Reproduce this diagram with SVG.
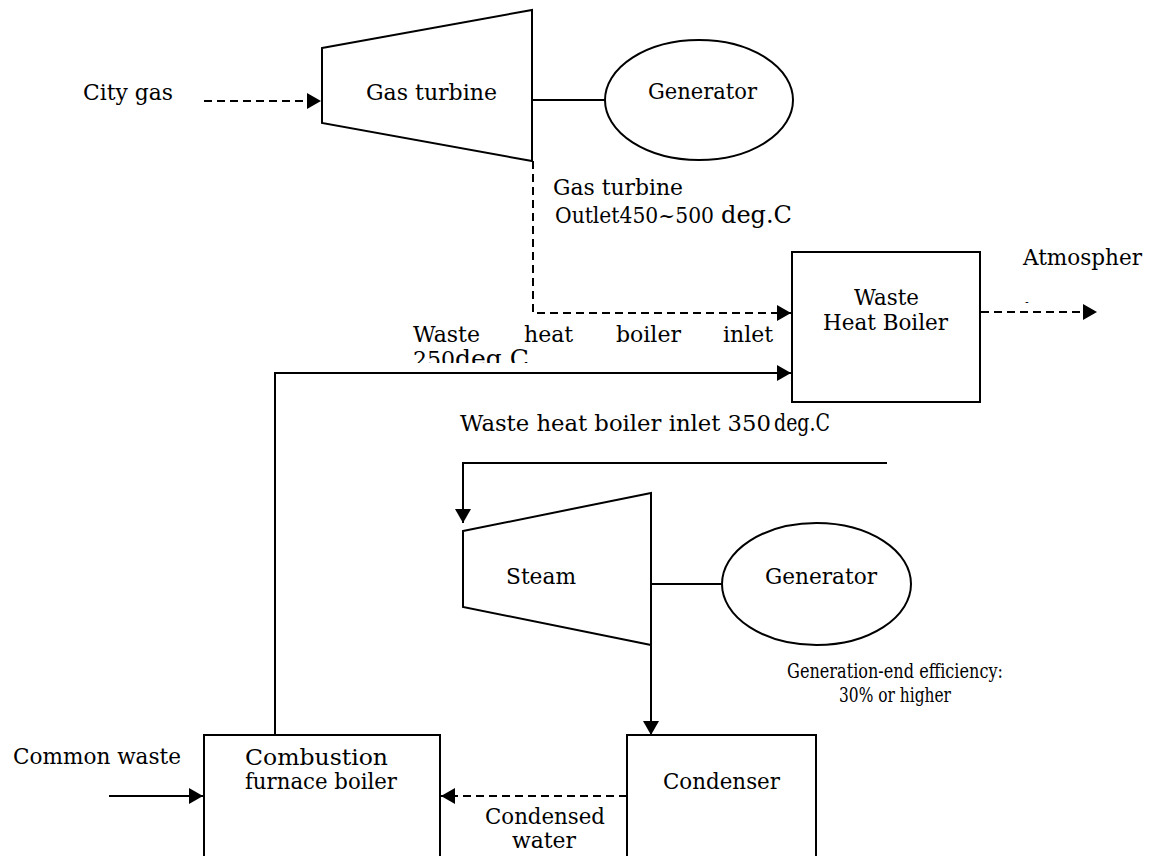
<svg xmlns="http://www.w3.org/2000/svg" width="1153" height="856" viewBox="0 0 1153 856">
  <style>
    .shape { fill: #fff; stroke: #000; stroke-width: 2; }
    .line { fill: none; stroke: #000; stroke-width: 2; }
    .dash { stroke-dasharray: 8 5; }
    text { font-family: "DejaVu Serif", "Liberation Serif", serif; font-size: 22px; fill: #000; }
    .big { font-family: "DejaVu Serif", "Liberation Serif", serif; font-size: 25px; }
    .note { font-size: 20px; }
  </style>
  <defs>
    <marker id="arrow" markerUnits="userSpaceOnUse" markerWidth="16" markerHeight="18" refX="14" refY="8" orient="auto">
      <path d="M0,0 L14,8 L0,16 Z" fill="#000"/>
    </marker>
    <clipPath id="clip250">
      <rect x="400" y="340" width="200" height="23"/>
    </clipPath>
  </defs>

  <rect width="1153" height="856" fill="#fff"/>

  <!-- connectors -->
  <g id="connectors">
    <line class="line dash" x1="204" y1="101" x2="321" y2="101" marker-end="url(#arrow)"/>
    <line class="line" x1="532" y1="100" x2="605" y2="100"/>
    <polyline class="line dash" points="533,161 533,313 791,313" marker-end="url(#arrow)"/>
    <line class="line dash" x1="981" y1="312" x2="1097" y2="312" marker-end="url(#arrow)"/>
    <polyline class="line" points="275,735 275,373 791,373" marker-end="url(#arrow)"/>
    <polyline class="line" points="887,463 463,463 463,523" marker-end="url(#arrow)"/>
    <line class="line" x1="651" y1="584" x2="722" y2="584"/>
    <line class="line" x1="651" y1="645" x2="651" y2="735" marker-end="url(#arrow)"/>
    <line class="line dash" x1="627" y1="796" x2="441" y2="796" marker-end="url(#arrow)"/>
    <line class="line" x1="109" y1="796" x2="203" y2="796" marker-end="url(#arrow)"/>
  </g>

  <!-- gas turbine -->
  <g id="gas-turbine">
    <polygon class="shape" points="322,48 532,10 532,161 322,123"/>
    <text x="366" y="100" textLength="131" lengthAdjust="spacingAndGlyphs">Gas turbine</text>
  </g>

  <!-- generator driven by the gas turbine -->
  <g id="generator-top">
    <ellipse class="shape" cx="699" cy="100" rx="94" ry="60"/>
    <text x="648" y="99" textLength="109" lengthAdjust="spacingAndGlyphs">Generator</text>
  </g>

  <!-- waste heat boiler -->
  <g id="waste-heat-boiler">
    <rect class="shape" x="792" y="252" width="188" height="150"/>
    <text x="854" y="305" textLength="65" lengthAdjust="spacingAndGlyphs">Waste</text>
    <text x="823" y="330" textLength="125" lengthAdjust="spacingAndGlyphs">Heat Boiler</text>
  </g>

  <!-- steam turbine -->
  <g id="steam-turbine">
    <polygon class="shape" points="463,531 651,493 651,645 463,607"/>
    <text x="506" y="584" textLength="70" lengthAdjust="spacingAndGlyphs">Steam</text>
  </g>

  <!-- generator driven by the steam turbine -->
  <g id="generator-bottom">
    <ellipse class="shape" cx="816.5" cy="584" rx="94.5" ry="61"/>
    <text x="765" y="584" textLength="112" lengthAdjust="spacingAndGlyphs">Generator</text>
  </g>

  <!-- combustion furnace boiler -->
  <g id="combustion-boiler">
    <rect class="shape" x="204" y="735" width="236" height="140"/>
    <text x="245" y="765" textLength="143" lengthAdjust="spacingAndGlyphs">Combustion</text>
    <text x="245" y="789" textLength="152" lengthAdjust="spacingAndGlyphs">furnace boiler</text>
  </g>

  <!-- condenser -->
  <g id="condenser">
    <rect class="shape" x="627" y="735" width="189" height="140"/>
    <text x="663" y="789" textLength="117" lengthAdjust="spacingAndGlyphs">Condenser</text>
  </g>

  <!-- stream labels -->
  <g id="labels">
    <text x="83" y="100" textLength="90" lengthAdjust="spacingAndGlyphs">City gas</text>
    <text x="553" y="195" textLength="130" lengthAdjust="spacingAndGlyphs">Gas turbine</text>
    <text x="555" y="223"><tspan textLength="159" lengthAdjust="spacingAndGlyphs">Outlet450~500</tspan><tspan class="big" x="721" textLength="71" lengthAdjust="spacingAndGlyphs">deg.C</tspan></text>
    <text x="1023" y="265" textLength="119" lengthAdjust="spacingAndGlyphs">Atmospher</text>
    <text x="1025" y="306" style="font-size:11px">-</text>
    <text y="342"><tspan x="413">Waste</tspan><tspan x="524">heat</tspan><tspan x="616">boiler</tspan><tspan x="723">inlet</tspan></text>
    <text x="413" y="367" clip-path="url(#clip250)"><tspan>250</tspan><tspan class="big">deg.C</tspan></text>
    <text x="460" y="431"><tspan textLength="311" lengthAdjust="spacingAndGlyphs">Waste heat boiler inlet 350</tspan><tspan class="big" x="774" textLength="56" lengthAdjust="spacingAndGlyphs">deg.C</tspan></text>
    <text class="note" x="895" y="678" text-anchor="middle" textLength="216" lengthAdjust="spacingAndGlyphs">Generation-end efficiency:</text>
    <text class="note" x="895" y="702" text-anchor="middle" textLength="112" lengthAdjust="spacingAndGlyphs">30% or higher</text>
    <text x="13" y="764" textLength="168" lengthAdjust="spacingAndGlyphs">Common waste</text>
    <text x="485" y="824" textLength="120" lengthAdjust="spacingAndGlyphs">Condensed</text>
    <text x="512" y="848" textLength="64" lengthAdjust="spacingAndGlyphs">water</text>
  </g>
</svg>
